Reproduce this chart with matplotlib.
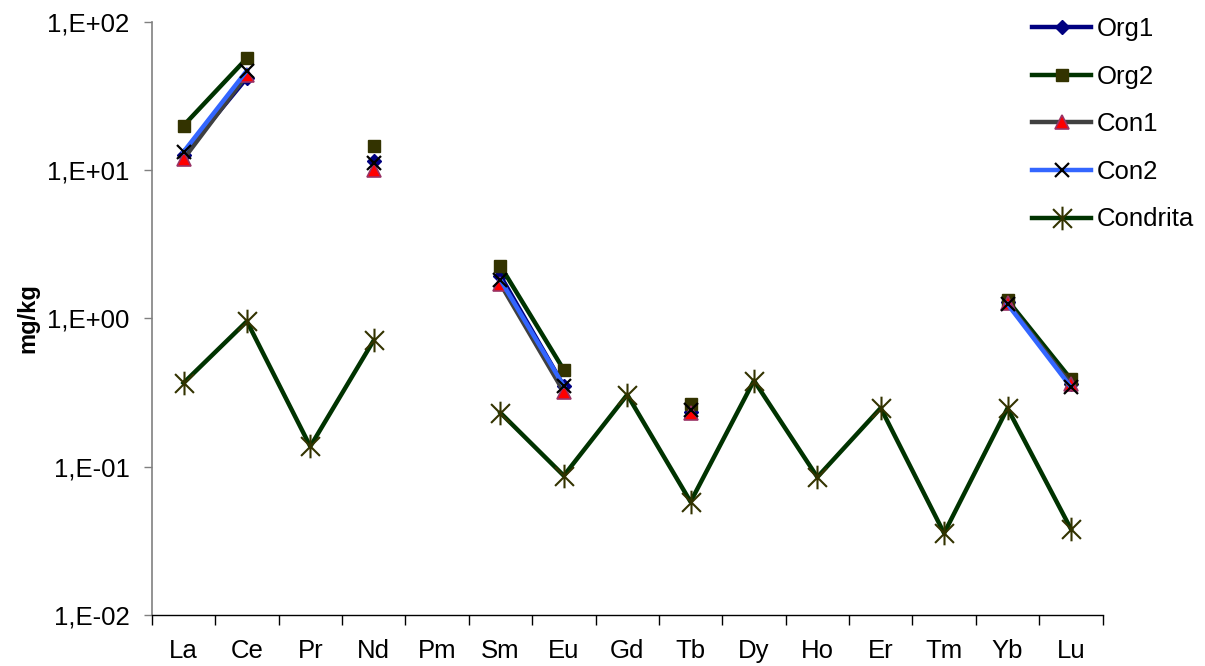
import numpy as np
import matplotlib
matplotlib.use("Agg")
import matplotlib.pyplot as plt
from matplotlib.path import Path
from matplotlib.ticker import FixedLocator, NullFormatter, FuncFormatter

plt.rcParams['font.family'] = ['Liberation Sans', 'DejaVu Sans']

# Rare earth elements and concentrations (mg/kg); nan = not determined
elements = ["La", "Ce", "Pr", "Nd", "Pm", "Sm", "Eu", "Gd", "Tb", "Dy",
            "Ho", "Er", "Tm", "Yb", "Lu"]
nan = np.nan
org1 = [12.7, 42.0, nan, 11.5, nan, 1.94, 0.35, nan, 0.235, nan, nan, nan, nan, 1.29, 0.36]
org2 = [20.0, 57.0, nan, 14.6, nan, 2.26, 0.45, nan, 0.265, nan, nan, nan, nan, 1.33, 0.39]
con1 = [11.9, 44.0, nan, 10.0, nan, 1.71, 0.32, nan, 0.23, nan, nan, nan, nan, 1.27, 0.36]
con2 = [13.3, 47.0, nan, 11.2, nan, 1.82, 0.35, nan, 0.24, nan, nan, nan, nan, 1.25, 0.345]
condrita = [0.367, 0.957, 0.137, 0.711, nan, 0.231, 0.087, 0.306, 0.058, 0.381,
            0.0851, 0.249, 0.0356, 0.248, 0.0381]

# Asterisk marker: vertical bar plus two diagonals
star = Path([(0, -1), (0, 1), (-0.8, -0.8), (0.8, 0.8), (-0.8, 0.8), (0.8, -0.8)],
            [Path.MOVETO, Path.LINETO, Path.MOVETO, Path.LINETO, Path.MOVETO, Path.LINETO])

fig = plt.figure(figsize=(12.05, 6.66), dpi=100)
ax = fig.add_axes([0.126, 0.0766, 0.789, 0.8904])

x = np.arange(len(elements))
lw = 3.2
ax.plot(x, org1, color="#000080", lw=lw, marker="D", ms=7.5,
        mfc="#000080", mec="#000080", label="Org1")
ax.plot(x, org2, color="#003300", lw=lw, marker="s", ms=8.5,
        mfc="#333300", mec="#333300", label="Org2")
ax.plot(x, con1, color="#404040", lw=lw, marker="^", ms=9.5,
        mfc="#FF0000", mec="#993366", mew=1.2, label="Con1")
ax.plot(x, con2, color="#3366FF", lw=lw, marker="x", ms=9.5,
        mfc="black", mec="black", mew=1.6, label="Con2")
ax.plot(x, condrita, color="#003300", lw=lw, marker=star, ms=17,
        mec="#333300", mew=1.5, label="Condrita")

ax.set_yscale("log")
ax.set_ylim(0.01, 100)
ax.set_xlim(-0.5, len(elements) - 0.5)

ax.yaxis.set_major_locator(FixedLocator([0.01, 0.1, 1, 10, 100]))
ax.yaxis.set_minor_locator(FixedLocator([]))
ax.yaxis.set_major_formatter(FuncFormatter(
    lambda v, p: "1,E{:+03d}".format(int(round(np.log10(v))))))
ax.tick_params(axis="y", which="major", direction="out", length=6, width=1,
               color="#808080", pad=10, labelsize=18.5)

ax.set_xticks(x)
ax.set_xticklabels(elements)
ax.xaxis.set_minor_locator(FixedLocator(np.arange(-0.5, len(elements), 1.0)))
ax.xaxis.set_minor_formatter(NullFormatter())
ax.tick_params(axis="x", which="major", length=0, pad=17, labelsize=18.5)
ax.tick_params(axis="x", which="minor", direction="out", length=7, width=1, color="black")

for s in ("top", "right"):
    ax.spines[s].set_visible(False)
ax.spines["left"].set_color("#808080")
ax.spines["left"].set_linewidth(1.2)
ax.spines["bottom"].set_color("black")
ax.spines["bottom"].set_linewidth(1.0)

ax.set_ylabel("mg/kg", fontsize=17, fontweight="bold", labelpad=6)

fig.legend(loc="upper left", bbox_to_anchor=(0.848, 0.99), frameon=False,
           fontsize=18.5, handlelength=2.3, handletextpad=0.2, labelspacing=0.92,
           borderaxespad=0)

fig.savefig("out.png", dpi=100)
